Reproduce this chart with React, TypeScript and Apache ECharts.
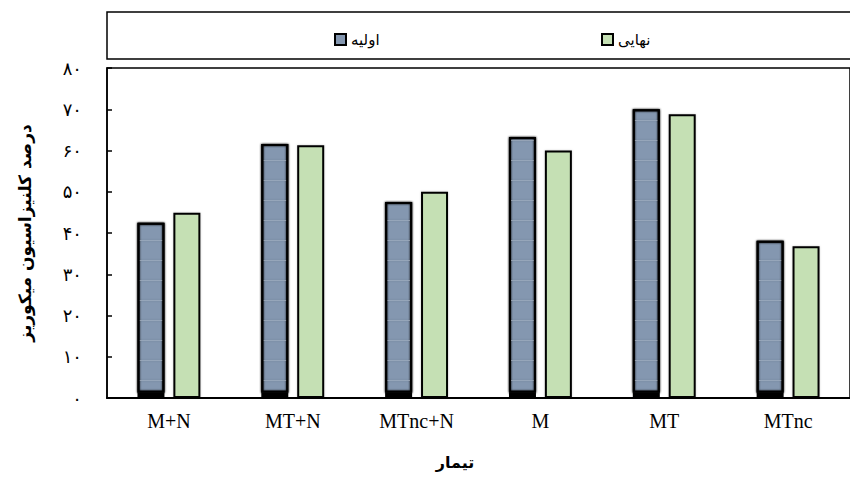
import React, { useEffect, useRef } from "react";
import * as echarts from "echarts";

const categories = ["M+N", "MT+N", "MTnc+N", "M", "MT", "MTnc"];
const initialValues = [42.5, 61.6, 47.5, 63.3, 70.0, 38.1];
const finalValues = [44.9, 61.3, 50.0, 60.0, 68.8, 36.8];
const baseValues = [1.3, 1.3, 1.3, 1.3, 1.3, 1.3];
const yTickLabels = ["۰", "۱۰", "۲۰", "۳۰", "۴۰", "۵۰", "۶۰", "۷۰", "۸۰"];
const seriesNames = ["اولیه", "نهایی"];
const yAxisTitle = "درصد کلنیزاسیون میکوریز";
const xAxisTitle = "تیمار";

const BLUE = "#8497b0";
const GREEN = "#c5e0b4";
const ARABIC_FONT = "DejaVu Sans";
const SERIF = "Liberation Serif";

export default function App() {
  const ref = useRef<HTMLDivElement>(null);
  useEffect(() => {
    document.body.style.margin = "0";
    const chart = echarts.init(ref.current!, null, { renderer: "svg" });
    const blueTop = initialValues.map((v, i) => +(v - baseValues[i]).toFixed(2));
    const barShadow = { shadowColor: "rgba(0,0,0,0.2)", shadowBlur: 2 };
    chart.setOption({
      animation: false,
      backgroundColor: "#fff",
      grid: {
        left: 107,
        top: 68,
        width: 750,
        height: 330,
        show: true,
        borderColor: "#000",
        borderWidth: 1.5,
        backgroundColor: "transparent",
      },
      legend: [
        {
          left: 329,
          top: 27,
          data: [seriesNames[0]],
          itemWidth: 11,
          itemHeight: 11,
          itemGap: 5,
          icon: "rect",
          textStyle: { fontFamily: ARABIC_FONT, fontSize: 15, color: "#000" },
        },
        {
          left: 596,
          top: 27,
          data: [seriesNames[1]],
          itemWidth: 11,
          itemHeight: 11,
          itemGap: 5,
          icon: "rect",
          textStyle: { fontFamily: ARABIC_FONT, fontSize: 15, color: "#000" },
        },
      ],
      xAxis: {
        type: "category",
        data: categories,
        axisLine: { lineStyle: { color: "#000", width: 2 } },
        axisTick: { inside: true, length: 5, lineStyle: { color: "#000", width: 1.5 } },
        axisLabel: { fontFamily: SERIF, fontSize: 20, color: "#000", margin: 13 },
        splitLine: { show: false },
      },
      yAxis: {
        type: "value",
        min: 0,
        max: 80,
        interval: 10,
        axisLine: { show: true, lineStyle: { color: "#000", width: 1.5 } },
        axisTick: { show: true, inside: true, length: 5, lineStyle: { color: "#000", width: 1.5 } },
        axisLabel: {
          fontFamily: ARABIC_FONT,
          fontSize: 18,
          color: "#000",
          margin: 25,
          formatter: (v: number) => yTickLabels[Math.round(v / 10)] ?? "",
        },
        splitLine: { show: false },
      },
      series: [
        {
          name: "base",
          type: "bar",
          stack: "initial",
          data: baseValues,
          barWidth: 27,
          barGap: "33%",
          silent: true,
          itemStyle: { color: "#000", borderColor: "#000", borderWidth: 1.5 },
        },
        {
          name: seriesNames[0],
          type: "bar",
          stack: "initial",
          data: blueTop,
          barWidth: 27,
          barGap: "33%",
          itemStyle: {
            color: BLUE,
            borderColor: "#000",
            borderWidth: 2,
            ...barShadow,
            decal: {
              symbol: "rect",
              symbolSize: 1,
              dashArrayX: [1, 0],
              dashArrayY: [1, 19],
              color: "rgba(255,255,255,0.15)",
            },
          },
        },
        {
          name: seriesNames[1],
          type: "bar",
          data: finalValues,
          barWidth: 27,
          barGap: "33%",
          itemStyle: { color: GREEN, borderColor: "#000", borderWidth: 2, ...barShadow },
        },
      ],
      graphic: [
        {
          type: "rect",
          shape: { x: 107, y: 12, width: 760, height: 47 },
          style: { fill: "none", stroke: "#000", lineWidth: 1.5 },
          silent: true,
        },
        {
          type: "text",
          x: 25,
          y: 233,
          rotation: Math.PI / 2,
          style: {
            text: yAxisTitle,
            fontFamily: ARABIC_FONT,
            fontWeight: "bold",
            fontSize: 17,
            fill: "#000",
            align: "center",
            verticalAlign: "middle",
          },
        },
        {
          type: "text",
          x: 455,
          y: 462,
          style: {
            text: xAxisTitle,
            fontFamily: ARABIC_FONT,
            fontWeight: "bold",
            fontSize: 16,
            fill: "#000",
            align: "center",
            verticalAlign: "middle",
          },
        },
      ],
    });
    return () => chart.dispose();
  }, []);
  return <div ref={ref} style={{ width: 850, height: 477 }} />;
}
